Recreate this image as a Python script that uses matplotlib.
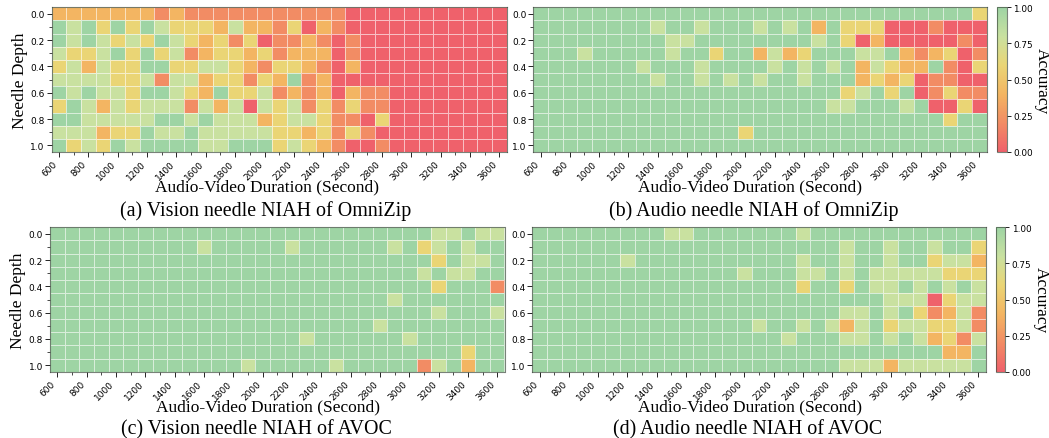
"""Needle-in-a-haystack accuracy grids for OmniZip and AVOC, vision and audio needles."""

import matplotlib.pyplot as plt
import numpy as np
from matplotlib.colors import LinearSegmentedColormap

# Categories: video length (columns) and needle depth (rows).
DURATIONS = list(range(600, 3601, 100))
DEPTHS = [0.0, 0.1, 0.2, 0.3, 0.4, 0.5, 0.6, 0.7, 0.8, 0.9, 1.0]
N_TRIALS = 5

# Correct answers out of N_TRIALS per (depth, duration) cell.
VISION_OMNIZIP = [
    [2, 2, 2, 2, 2, 2, 2, 1, 2, 1, 1, 1, 1, 1, 1, 1, 1, 1, 1, 1, 0, 0, 0, 0, 0, 0, 0, 0, 0, 0, 0],
    [5, 4, 5, 3, 5, 3, 5, 4, 3, 3, 3, 2, 4, 2, 2, 1, 3, 0, 2, 1, 0, 0, 0, 0, 0, 0, 0, 0, 0, 0, 0],
    [5, 4, 5, 4, 3, 4, 3, 5, 4, 3, 2, 3, 1, 3, 0, 1, 1, 2, 1, 0, 1, 0, 0, 0, 0, 0, 0, 0, 0, 0, 0],
    [4, 3, 3, 4, 5, 3, 5, 3, 4, 1, 2, 3, 3, 2, 3, 1, 2, 2, 2, 0, 1, 0, 0, 0, 0, 0, 0, 0, 0, 0, 0],
    [3, 4, 2, 4, 3, 3, 5, 5, 3, 3, 4, 4, 3, 2, 1, 3, 3, 2, 1, 0, 2, 0, 0, 0, 0, 0, 0, 0, 0, 0, 0],
    [4, 4, 4, 4, 3, 3, 4, 1, 4, 4, 2, 3, 3, 1, 3, 2, 5, 1, 2, 0, 0, 0, 0, 0, 0, 0, 0, 0, 0, 0, 0],
    [5, 4, 5, 4, 4, 3, 5, 5, 4, 3, 2, 5, 3, 3, 4, 1, 2, 1, 2, 0, 2, 1, 1, 0, 0, 0, 0, 0, 0, 0, 0],
    [3, 5, 4, 2, 4, 3, 4, 4, 4, 1, 4, 2, 4, 0, 4, 3, 4, 1, 3, 1, 3, 1, 1, 0, 0, 0, 0, 0, 0, 0, 0],
    [5, 5, 4, 4, 4, 4, 4, 5, 5, 4, 5, 4, 4, 4, 2, 3, 4, 4, 3, 1, 1, 0, 3, 0, 0, 0, 0, 0, 0, 0, 0],
    [4, 4, 4, 2, 3, 3, 5, 4, 4, 5, 4, 4, 4, 4, 4, 3, 3, 2, 3, 1, 3, 1, 0, 0, 0, 0, 0, 0, 0, 0, 0],
    [5, 3, 4, 3, 5, 4, 5, 5, 5, 5, 4, 4, 5, 5, 5, 3, 4, 3, 2, 1, 0, 0, 1, 0, 0, 0, 0, 0, 0, 0, 0],
]

AUDIO_OMNIZIP = [
    [5, 5, 5, 5, 5, 5, 5, 5, 5, 5, 5, 5, 5, 5, 5, 5, 5, 5, 5, 5, 5, 5, 5, 5, 5, 5, 5, 5, 5, 5, 3],
    [5, 5, 5, 5, 5, 5, 5, 5, 4, 5, 5, 4, 5, 5, 5, 4, 5, 4, 5, 2, 5, 3, 3, 3, 0, 0, 0, 1, 0, 0, 0],
    [5, 5, 5, 5, 5, 5, 5, 5, 5, 4, 4, 5, 5, 5, 5, 5, 5, 5, 5, 4, 5, 3, 0, 2, 0, 0, 0, 0, 0, 1, 0],
    [5, 5, 5, 4, 5, 5, 5, 5, 5, 4, 5, 5, 3, 5, 5, 2, 4, 2, 3, 5, 5, 5, 4, 4, 5, 2, 1, 2, 3, 0, 1],
    [5, 5, 5, 5, 5, 5, 5, 4, 5, 5, 5, 4, 5, 5, 5, 5, 4, 5, 4, 5, 4, 5, 2, 4, 3, 2, 2, 5, 1, 0, 3],
    [5, 5, 5, 5, 5, 5, 5, 5, 4, 5, 5, 4, 5, 4, 5, 4, 5, 5, 4, 5, 5, 5, 2, 3, 2, 3, 0, 1, 1, 0, 0],
    [5, 5, 5, 5, 5, 5, 5, 5, 5, 5, 5, 5, 5, 5, 5, 5, 5, 5, 5, 5, 5, 3, 4, 5, 3, 5, 0, 1, 3, 1, 1],
    [5, 5, 5, 5, 5, 5, 5, 5, 5, 5, 5, 5, 5, 5, 5, 5, 5, 5, 5, 5, 4, 4, 5, 5, 5, 4, 5, 0, 0, 3, 0],
    [5, 5, 5, 5, 5, 5, 5, 5, 5, 5, 5, 5, 5, 5, 5, 5, 5, 5, 5, 5, 5, 5, 5, 5, 5, 5, 5, 5, 3, 5, 5],
    [5, 5, 5, 5, 5, 5, 5, 5, 5, 5, 5, 5, 5, 5, 3, 5, 5, 5, 5, 5, 5, 5, 5, 5, 5, 5, 5, 5, 5, 5, 5],
    [5, 5, 5, 5, 5, 5, 5, 5, 5, 5, 5, 5, 5, 5, 5, 5, 5, 5, 5, 5, 5, 5, 5, 5, 5, 5, 5, 5, 5, 5, 5],
]

VISION_AVOC = [
    [5, 5, 5, 5, 5, 5, 5, 5, 5, 5, 5, 5, 5, 5, 5, 5, 5, 5, 5, 5, 5, 5, 5, 5, 5, 5, 4, 4, 5, 4, 4],
    [5, 5, 5, 5, 5, 5, 5, 5, 5, 5, 4, 5, 5, 5, 5, 5, 4, 5, 5, 5, 5, 5, 5, 4, 5, 3, 4, 5, 4, 5, 5],
    [5, 5, 5, 5, 5, 5, 5, 5, 5, 5, 5, 5, 5, 5, 5, 5, 5, 5, 5, 5, 5, 5, 5, 5, 5, 5, 3, 5, 4, 4, 5],
    [5, 5, 5, 5, 5, 5, 5, 5, 5, 5, 5, 5, 5, 5, 5, 5, 5, 5, 5, 5, 5, 5, 5, 5, 5, 4, 5, 4, 4, 5, 5],
    [5, 5, 5, 5, 5, 5, 5, 5, 5, 5, 5, 5, 5, 5, 5, 5, 5, 5, 5, 5, 5, 5, 5, 5, 5, 5, 3, 5, 5, 5, 1],
    [5, 5, 5, 5, 5, 5, 5, 5, 5, 5, 5, 5, 5, 5, 5, 5, 5, 5, 5, 5, 5, 5, 5, 4, 5, 5, 5, 5, 5, 5, 5],
    [5, 5, 5, 5, 5, 5, 5, 5, 5, 5, 5, 5, 5, 5, 5, 5, 5, 5, 5, 5, 5, 5, 5, 5, 5, 5, 4, 5, 5, 5, 4],
    [5, 5, 5, 5, 5, 5, 5, 5, 5, 5, 5, 5, 5, 5, 5, 5, 5, 5, 5, 5, 5, 5, 4, 5, 5, 5, 5, 5, 5, 5, 5],
    [5, 5, 5, 5, 5, 5, 5, 5, 5, 5, 5, 5, 5, 5, 5, 5, 5, 4, 5, 5, 5, 5, 5, 5, 4, 5, 5, 5, 5, 5, 5],
    [5, 5, 5, 5, 5, 5, 5, 5, 5, 5, 5, 5, 5, 5, 5, 5, 5, 5, 5, 5, 5, 5, 5, 5, 5, 5, 5, 5, 3, 5, 5],
    [5, 5, 5, 5, 5, 5, 5, 5, 5, 5, 5, 5, 5, 4, 5, 5, 5, 5, 5, 4, 5, 5, 5, 5, 5, 1, 4, 5, 2, 5, 5],
]

AUDIO_AVOC = [
    [5, 5, 5, 5, 5, 5, 5, 5, 5, 4, 4, 5, 5, 5, 5, 5, 5, 5, 4, 5, 5, 5, 5, 5, 5, 5, 5, 5, 5, 5, 5],
    [5, 5, 5, 5, 5, 5, 5, 5, 5, 5, 5, 5, 5, 5, 5, 5, 5, 5, 5, 5, 5, 4, 5, 5, 4, 5, 5, 4, 5, 5, 3],
    [5, 5, 5, 5, 5, 5, 4, 5, 5, 5, 5, 5, 5, 5, 5, 5, 5, 5, 4, 5, 5, 4, 5, 5, 4, 5, 5, 3, 4, 4, 2],
    [5, 5, 5, 5, 5, 5, 5, 5, 5, 5, 5, 5, 5, 5, 4, 5, 5, 5, 4, 4, 5, 4, 5, 4, 4, 4, 4, 4, 3, 3, 3],
    [5, 5, 5, 5, 5, 5, 5, 5, 5, 5, 5, 5, 5, 5, 5, 5, 5, 5, 3, 5, 5, 3, 5, 4, 4, 5, 4, 5, 4, 5, 4],
    [5, 5, 5, 5, 5, 5, 5, 5, 5, 5, 5, 5, 5, 5, 5, 5, 5, 5, 5, 5, 5, 5, 5, 5, 4, 4, 4, 0, 3, 4, 4],
    [5, 5, 5, 5, 5, 5, 5, 5, 5, 5, 5, 5, 5, 5, 5, 5, 5, 5, 5, 5, 5, 4, 4, 5, 4, 5, 3, 1, 2, 4, 1],
    [5, 5, 5, 5, 5, 5, 5, 5, 5, 5, 5, 5, 5, 5, 5, 4, 5, 5, 4, 5, 4, 2, 4, 5, 3, 4, 4, 3, 3, 4, 1],
    [5, 5, 5, 5, 5, 5, 5, 5, 5, 5, 5, 5, 5, 5, 5, 5, 5, 4, 5, 5, 5, 4, 4, 5, 4, 5, 4, 2, 3, 1, 4],
    [5, 5, 5, 5, 5, 5, 5, 5, 5, 5, 5, 5, 5, 5, 5, 5, 5, 5, 5, 5, 5, 5, 5, 5, 5, 5, 5, 5, 2, 2, 5],
    [5, 5, 5, 5, 5, 5, 5, 5, 5, 5, 5, 5, 5, 5, 5, 5, 5, 5, 5, 5, 5, 4, 4, 4, 2, 4, 4, 4, 4, 4, 5],
]

CAPTIONS = [
    "(a) Vision needle NIAH of OmniZip",
    "(b) Audio needle NIAH of OmniZip",
    "(c) Vision needle NIAH of AVOC",
    "(d) Audio needle NIAH of AVOC",
]

SERIF = "Liberation Serif"
CMAP = LinearSegmentedColormap.from_list(
    "niah",
    [
        (0.0, "#ef616b"),
        (0.2, "#f28c64"),
        (0.4, "#f3b562"),
        (0.6, "#ead575"),
        (0.8, "#c9e1a0"),
        (1.0, "#9ed4a4"),
    ],
)
FRAME = (0.25, 0.3, 0.25, 0.7)

W, H = 1049, 439


def px_rect(x0, y0, x1, y1):
    """Pixel box (top-left origin) to a figure-fraction rect."""
    return [x0 / W, 1 - y1 / H, (x1 - x0) / W, (y1 - y0) / H]


def draw_grid(ax, counts, ylabel, xlabel_x):
    acc = np.asarray(counts, float) / N_TRIALS
    assert acc.shape == (len(DEPTHS), len(DURATIONS))
    mesh = ax.pcolormesh(
        acc, cmap=CMAP, vmin=0, vmax=1, edgecolors=(1, 1, 1, 0.6), linewidth=0.7
    )
    ax.set_xlim(0, len(DURATIONS))
    ax.set_ylim(len(DEPTHS), 0)

    cols = np.arange(len(DURATIONS)) + 0.5
    rows = np.arange(len(DEPTHS)) + 0.5
    ax.set_xticks(cols[::2])
    ax.set_xticklabels([str(d) for d in DURATIONS[::2]], rotation=45, ha="right")
    ax.set_xticks(cols[1::2], minor=True)
    ax.set_yticks(rows[::2])
    ax.set_yticklabels([f"{d:.1f}" for d in DEPTHS[::2]])
    ax.set_yticks(rows[1::2], minor=True)
    ax.tick_params(which="major", labelsize=6.5, length=3.5, width=0.6, pad=1.5)
    ax.tick_params(which="minor", length=2, width=0.5)

    ax.set_xlabel("Audio-Video Duration (Second)", family=SERIF, fontsize=12.5)
    ax.xaxis.set_label_coords(xlabel_x, -0.185)
    if ylabel:
        ax.set_ylabel("Needle Depth", family=SERIF, fontsize=12.5)
        ax.yaxis.set_label_coords(-0.052, 0.5)
    for sp in ax.spines.values():
        sp.set_edgecolor(FRAME)
        sp.set_linewidth(0.8)
    return mesh


def add_colorbar(fig, mesh, rect):
    cax = fig.add_axes(rect)
    cb = fig.colorbar(mesh, cax=cax, ticks=[0, 0.25, 0.5, 0.75, 1.0], format="%.2f")
    cb.outline.set_edgecolor(FRAME)
    cb.outline.set_linewidth(0.8)
    cax.tick_params(labelsize=6.4, length=3, width=0.6, pad=1.5)
    cb.set_label("Accuracy", family=SERIF, fontsize=12.5, rotation=270, va="center")
    cax.yaxis.set_label_coords(4.5, 0.5)


fig = plt.figure(figsize=(W / 100, H / 100), dpi=100)

panels = [
    (VISION_OMNIZIP, px_rect(51.7, 8.3, 506.7, 153), True, 0.474, (265.5, 211)),
    (AUDIO_OMNIZIP, px_rect(533.3, 8.3, 986.7, 153), False, 0.478, (754, 211)),
    (VISION_AVOC, px_rect(50, 228.3, 504.5, 372.7), True, 0.479, (256, 430)),
    (AUDIO_AVOC, px_rect(532.3, 228.3, 985.7, 372.7), False, 0.480, (748, 430)),
]

meshes = []
for (counts, rect, ylabel, xlabel_x, (cx, cy)), caption in zip(panels, CAPTIONS):
    ax = fig.add_axes(rect)
    meshes.append(draw_grid(ax, counts, ylabel, xlabel_x))
    fig.text(cx / W, 1 - cy / H, caption, family=SERIF, fontsize=14.4, ha="center", va="center")

add_colorbar(fig, meshes[1], px_rect(996.7, 8.3, 1006.7, 153))
add_colorbar(fig, meshes[3], px_rect(995.5, 228.3, 1005.5, 372.7))

fig.savefig("out.png", dpi=100)
